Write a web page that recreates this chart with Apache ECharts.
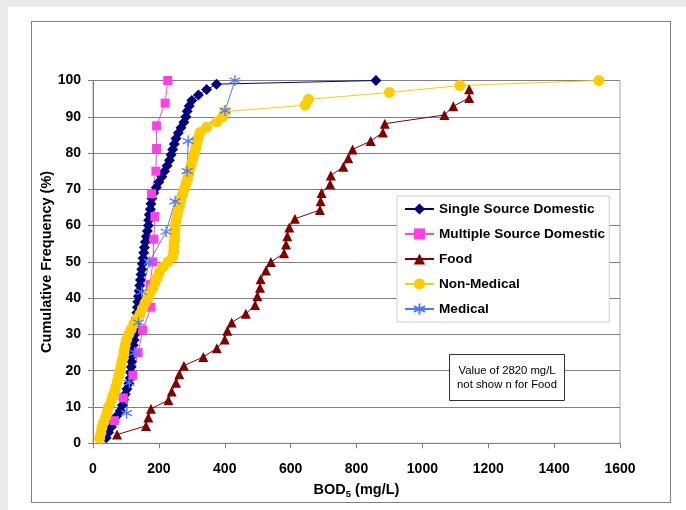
<!DOCTYPE html>
<html>
<head>
<meta charset="utf-8">
<script src="https://cdn.jsdelivr.net/npm/echarts@6/dist/echarts.min.js"></script>
<style>
  html, body { margin: 0; padding: 0; background: #ebebeb; width: 686px; height: 510px; overflow: hidden; }
  #white { position: absolute; left: 8px; top: 7px; width: 678px; height: 503px; background: #ffffff; }
  #frame { position: absolute; left: 31px; top: 21px; width: 638px; height: 480px; border: 1px solid #7f7f7f; }
  #chart { position: absolute; left: 0; top: 0; width: 686px; height: 510px; }
</style>
</head>
<body>
<div id="white"></div>
<div id="frame"></div>
<div id="chart"></div>
<script>
// ---- data (BOD5 mg/L, cumulative frequency %) ----
const seriesNames = ['Single Source Domestic', 'Multiple Source Domestic', 'Food', 'Non-Medical', 'Medical'];

const ssdBOD = [40, 47, 56, 64, 72, 83, 89, 93, 98, 103, 109, 113, 114, 116, 117, 119, 121, 122, 125, 127,
  128, 130, 131, 133, 135, 136, 138, 140, 142, 144, 146, 148, 150, 152, 154, 156, 159, 162, 165, 168,
  169, 171, 174, 176, 179, 184, 192, 200, 209, 217, 225, 232, 237, 242, 247, 252, 259, 267, 276, 282,
  286, 292, 300, 320, 345, 375, 859];
const ssdPct = [1.5, 3, 4.5, 6, 7.5, 9, 10.5, 12, 13.5, 15, 16.5, 18, 19.5, 21, 22.5, 24, 25.5, 27, 28.5, 30,
  31.5, 33, 34.5, 36, 37.5, 39, 40.5, 42, 43.5, 45, 46.5, 48, 49.5, 51, 52.5, 54, 55.5, 57, 58.5, 60,
  61.5, 63, 64.5, 66, 67.5, 69, 70.5, 72, 73.5, 75, 76.5, 78, 79.5, 81, 82.5, 84, 85.5, 87, 88.5, 90,
  91.5, 93, 94.5, 96, 97.5, 99, 100];

const msdBOD = [65, 92, 121, 137, 151, 176, 173, 182, 185, 188, 178, 191, 193, 193, 219, 227];
const msdPct = [6.25, 12.5, 18.75, 25, 31.25, 37.5, 43.75, 50, 56.25, 62.5, 68.75, 75, 81.25, 87.5, 93.75, 100];

const foodBOD = [73, 161, 168, 176, 229, 239, 252, 262, 276, 335, 376, 400, 408, 421, 464, 492, 499, 507, 509, 525,
  540, 580, 586, 590, 596, 613, 689, 691, 694, 720, 722, 760, 775, 788, 843, 880, 886, 1067, 1094, 1142, 1142];
const foodPct = [2.4, 4.8, 7.1, 9.5, 11.9, 14.3, 16.7, 19.0, 21.4, 23.8, 26.2, 28.6, 31.0, 33.3, 35.7, 38.1, 40.5, 42.9, 45.2, 47.6,
  50.0, 52.4, 54.8, 57.1, 59.5, 61.9, 64.3, 66.7, 69.0, 71.4, 73.8, 76.2, 78.6, 81.0, 83.3, 85.7, 88.1, 90.5, 92.9, 95.2, 97.6];

const nmBOD = [20, 24, 27, 32, 38, 43, 47, 55, 60, 66, 70, 74, 78, 82, 85, 89, 93, 95, 98, 102,
  108, 116, 124, 133, 143, 150, 158, 166, 173, 182, 189, 195, 201, 213, 228, 242, 245, 246, 247, 248,
  249, 250, 252, 256, 259, 263, 267, 272, 277, 282, 287, 291, 295, 299, 304, 308, 312, 316, 320, 325,
  345, 376, 394, 401, 644, 654, 900, 1114, 1536];
const nmPct = [1.4, 2.9, 4.3, 5.7, 7.1, 8.6, 10.0, 11.4, 12.9, 14.3, 15.7, 17.1, 18.6, 20.0, 21.4, 22.9, 24.3, 25.7, 27.1, 28.6,
  30.0, 31.4, 32.9, 34.3, 35.7, 37.1, 38.6, 40.0, 41.4, 42.9, 44.3, 45.7, 47.1, 48.6, 50.0, 51.4, 52.9, 54.3, 55.7, 57.1,
  58.6, 60.0, 61.4, 62.9, 64.3, 65.7, 67.1, 68.6, 70.0, 71.4, 72.9, 74.3, 75.7, 77.1, 78.6, 80.0, 81.4, 82.9, 84.3, 85.7,
  87.1, 88.6, 90.0, 91.4, 93.2, 94.8, 96.7, 98.6, 100];

const medBOD = [102, 110, 127, 138, 148, 171, 222, 249, 286, 289, 401, 431];
const medPct = [8.3, 16.7, 25, 33.3, 41.7, 50, 58.3, 66.7, 75, 83.3, 91.7, 100];

const xTicks = [0, 200, 400, 600, 800, 1000, 1200, 1400, 1600];
const yTicks = [0, 10, 20, 30, 40, 50, 60, 70, 80, 90, 100];
const noteLines = ['Value of 2820 mg/L', 'not show n for Food'];

// ---- build ----
const zip = (xs, ys) => xs.map((x, i) => [x, ys[i]]);
const FONT = '"Liberation Sans", Arial, sans-serif';
const asterisk = 'path://M0,-10L0,10M-8.7,-5L8.7,5M-8.7,5L8.7,-5';

const colors = ['#000080', '#ff40e6', '#800000', '#ffcc00', '#4f78ff'];
const syms = ['diamond', 'rect', 'triangle', 'circle', asterisk];
const sizes = [11, 9, 10, 11, 11];
const datas = [zip(ssdBOD, ssdPct), zip(msdBOD, msdPct), zip(foodBOD, foodPct), zip(nmBOD, nmPct), zip(medBOD, medPct)];

const series = seriesNames.map((name, i) => ({
  name: name,
  type: 'line',
  data: datas[i],
  symbol: syms[i],
  symbolSize: sizes[i],
  showAllSymbol: true,
  lineStyle: { color: colors[i], width: 1 },
  itemStyle: i === 4
    ? { color: 'rgba(0,0,0,0)', borderColor: colors[i], borderWidth: 1.3 }
    : { color: colors[i], borderWidth: 0 },
  emphasis: { disabled: true },
  animation: false
}));

const chart = echarts.init(document.getElementById('chart'), null, { renderer: 'canvas' });
chart.setOption({
  backgroundColor: 'transparent',
  animation: false,
  textStyle: { fontFamily: FONT },
  grid: { left: 93, right: 66, top: 80.5, bottom: 66.7, show: true, borderColor: '#a6a6a6', borderWidth: 1, containLabel: false },
  xAxis: {
    type: 'value', min: xTicks[0], max: xTicks[xTicks.length - 1], interval: 200,
    axisLine: { show: true, lineStyle: { color: '#808080', width: 1 } },
    axisTick: { show: true, inside: false, length: 5, lineStyle: { color: '#808080' } },
    splitLine: { show: false },
    axisLabel: { color: '#000', fontWeight: 'bold', fontSize: 14, fontFamily: FONT, margin: 19, formatter: v => String(v) },
    name: 'BOD{sub|5} (mg/L)',
    nameLocation: 'middle',
    nameGap: 38,
    nameMoveOverlap: false,
    nameTextStyle: {
      color: '#000', fontWeight: 'bold', fontSize: 14.5, fontFamily: FONT, lineHeight: 18,
      rich: { sub: { fontSize: 9.5, fontWeight: 'bold', fontFamily: FONT, color: '#000', verticalAlign: 'bottom', lineHeight: 14 } }
    }
  },
  yAxis: {
    type: 'value', min: yTicks[0], max: yTicks[yTicks.length - 1], interval: 10,
    axisLine: { show: true, lineStyle: { color: '#808080', width: 1 } },
    axisTick: { show: true, inside: false, length: 5, lineStyle: { color: '#808080' } },
    splitLine: { show: true, lineStyle: { color: '#808080', width: 1 } },
    axisLabel: { color: '#000', fontWeight: 'bold', fontSize: 14, fontFamily: FONT, margin: 12, formatter: v => String(v) },
    name: 'Cumulative Frequency (%)',
    nameLocation: 'middle',
    nameGap: 39,
    nameMoveOverlap: false,
    nameTextStyle: { color: '#000', fontWeight: 'bold', fontSize: 14.5, fontFamily: FONT }
  },
  legend: {
    orient: 'vertical',
    left: 397, top: 196,
    padding: [6, 4, 6, 7],
    itemWidth: 29, itemHeight: 14, itemGap: 11,
    backgroundColor: '#ffffff',
    borderColor: '#cfcfcf', borderWidth: 1,
    textStyle: { color: '#000', fontWeight: 'bold', fontSize: 13.6, fontFamily: FONT },
    data: seriesNames
  },
  graphic: [
    {
      type: 'group', left: 449, top: 354, z: 100,
      children: [
        { type: 'rect', z: 100, shape: { x: 0, y: 0, width: 115, height: 46 }, style: { fill: '#fff', stroke: '#333', lineWidth: 1 } },
        { type: 'text', z: 101, x: 57.5, y: 16, style: { text: noteLines[0], fill: '#000', font: '11.3px ' + FONT, textAlign: 'center', textVerticalAlign: 'middle' } },
        { type: 'text', z: 101, x: 57.5, y: 30, style: { text: noteLines[1], fill: '#000', font: '11.3px ' + FONT, textAlign: 'center', textVerticalAlign: 'middle' } }
      ]
    }
  ],
  series: series
});
</script>
</body>
</html>
